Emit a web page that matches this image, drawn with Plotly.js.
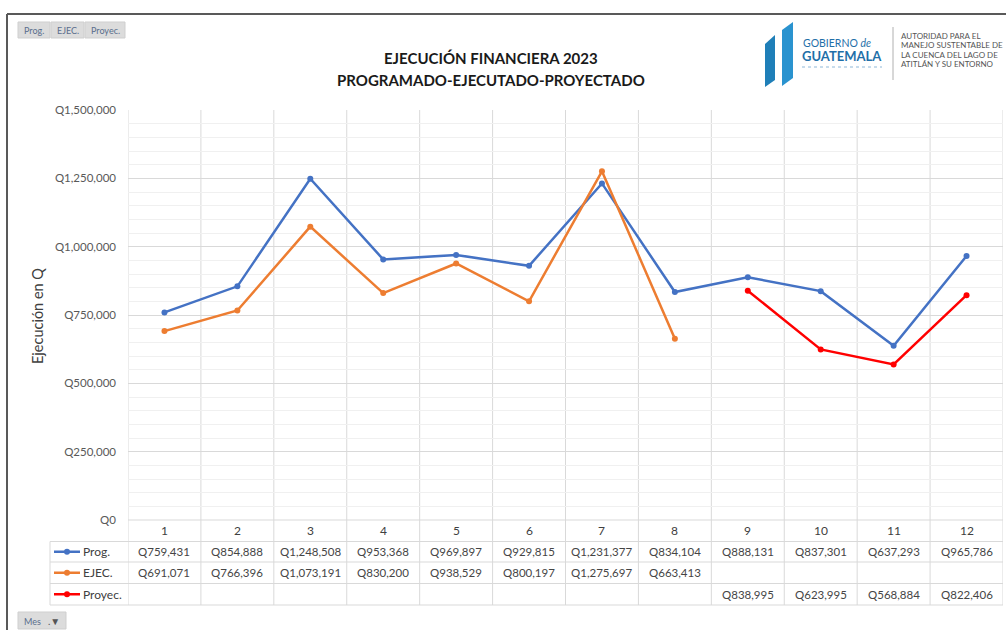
<!DOCTYPE html>
<html>
<head>
<meta charset="utf-8">
<script src="https://cdn.plot.ly/plotly-3.0.1.min.js"></script>
<style>
  html, body { margin: 0; padding: 0; background: #ffffff; }
  #chart { width: 1006px; height: 630px; }
</style>
</head>
<body>
<div id="chart"></div>
<script>
// ---- Data ----
const months = ['1', '2', '3', '4', '5', '6', '7', '8', '9', '10', '11', '12'];
const prog = [759431, 854888, 1248508, 953368, 969897, 929815, 1231377, 834104, 888131, 837301, 637293, 965786];
const ejec = [691071, 766396, 1073191, 830200, 938529, 800197, 1275697, 663413, null, null, null, null];
const proy = [null, null, null, null, null, null, null, null, 838995, 623995, 568884, 822406];
const seriesNames = ['Prog.', 'EJEC.', 'Proyec.'];
const seriesColors = ['#4472C4', '#ED7D31', '#FF0000'];
const titleLines = ['EJECUCIÓN FINANCIERA 2023', 'PROGRAMADO-EJECUTADO-PROYECTADO'];
const yTitle = 'Ejecución en Q';
const authorityLines = ['AUTORIDAD PARA EL', 'MANEJO SUSTENTABLE DE', 'LA CUENCA DEL LAGO DE', 'ATITLÁN Y SU ENTORNO'];

// ---- Geometry helpers (pixel -> paper) ----
const W = 1006, H = 630;
const px = x => x / W;
const py = y => 1 - y / H;
const FONT = 'Lato, "Open Sans", Arial, sans-serif';

const plotLeft = 128, plotRight = 1003, plotTop = 110, plotBottom = 520;
const legLeft = 50;
const rowLines = [520, 541.5, 562, 583.5, 605];
const xs = months.map(Number);
const allSeries = [prog, ejec, proy];

const traces = allSeries.map((vals, k) => ({
  type: 'scatter', mode: 'lines+markers', name: seriesNames[k],
  x: xs, y: vals, connectgaps: false,
  line: { color: seriesColors[k], width: 2.5 },
  marker: { color: seriesColors[k], size: 6 },
  hoverinfo: 'x+y'
}));

const shapes = [];
const annotations = [];
const gridCol = '#d9d9d9';
function ann(o) {
  annotations.push(Object.assign({ showarrow: false, xanchor: 'center', yanchor: 'middle' }, o));
}

// vertical column lines
for (let i = 0; i <= months.length; i++) {
  shapes.push({ type: 'line', xref: 'x', yref: 'paper', x0: i + 0.5, x1: i + 0.5,
    y0: py(plotTop), y1: py(rowLines[4]), line: { color: gridCol, width: 1 }, layer: 'below' });
}
// table horizontal lines
rowLines.forEach((y, j) => {
  shapes.push({ type: 'line', xref: 'paper', yref: 'paper', x0: px(j === 0 ? plotLeft : legLeft), x1: px(plotRight),
    y0: py(y), y1: py(y), line: { color: gridCol, width: 1 }, layer: 'below' });
});
// legend column left edge
shapes.push({ type: 'line', xref: 'paper', yref: 'paper', x0: px(legLeft), x1: px(legLeft),
  y0: py(rowLines[1]), y1: py(rowLines[4]), line: { color: gridCol, width: 1 } });

// category numbers row
months.forEach((m, i) => {
  ann({ xref: 'x', yref: 'paper', x: xs[i], y: py((rowLines[0] + rowLines[1]) / 2),
    text: m, font: { family: FONT, size: 12, color: '#404040' } });
});
// value rows and legend keys
allSeries.forEach((vals, k) => {
  const yc = (rowLines[k + 1] + rowLines[k + 2]) / 2;
  vals.forEach((v, i) => {
    if (v === null) return;
    ann({ xref: 'x', yref: 'paper', x: xs[i], y: py(yc),
      text: 'Q' + v.toLocaleString('en-US'),
      font: { family: FONT, size: 11.5, color: '#454545' } });
  });
  shapes.push({ type: 'line', xref: 'paper', yref: 'paper', x0: px(54), x1: px(80), y0: py(yc), y1: py(yc),
    line: { color: seriesColors[k], width: 2.5 } });
  shapes.push({ type: 'circle', xref: 'paper', yref: 'paper', x0: px(64), x1: px(70), y0: py(yc + 3), y1: py(yc - 3),
    fillcolor: seriesColors[k], line: { color: seriesColors[k], width: 0 } });
  ann({ xref: 'paper', yref: 'paper', x: px(81), y: py(yc), xanchor: 'left',
    text: seriesNames[k], font: { family: FONT, size: 12, color: '#404040' } });
});

// outer border (left and top)
shapes.push({ type: 'line', xref: 'paper', yref: 'paper', x0: px(7), x1: px(7), y0: py(14), y1: py(630),
  line: { color: '#595959', width: 2 } });
shapes.push({ type: 'line', xref: 'paper', yref: 'paper', x0: px(7), x1: px(1006), y0: py(14), y1: py(14),
  line: { color: '#595959', width: 2 } });

// field buttons top-left
const btns = [[18, 50, seriesNames[0]], [51, 84, seriesNames[1]], [85, 125, seriesNames[2]]];
btns.forEach(b => {
  shapes.push({ type: 'rect', xref: 'paper', yref: 'paper', x0: px(b[0]), x1: px(b[1]), y0: py(38), y1: py(22),
    fillcolor: '#dcdcdc', line: { color: '#cfcfcf', width: 1 } });
  ann({ xref: 'paper', yref: 'paper', x: px((b[0] + b[1]) / 2), y: py(30), text: b[2],
    font: { family: FONT, size: 9, color: '#5a6e8c' } });
});
// Mes button bottom-left
shapes.push({ type: 'rect', xref: 'paper', yref: 'paper', x0: px(18), x1: px(66), y0: py(629), y1: py(612),
  fillcolor: '#dcdcdc', line: { color: '#cfcfcf', width: 1 } });
ann({ xref: 'paper', yref: 'paper', x: px(22), y: py(621), xanchor: 'left', text: 'Mes',
  font: { family: FONT, size: 9, color: '#5a6e8c' } });
ann({ xref: 'paper', yref: 'paper', x: px(46), y: py(621), xanchor: 'left', text: '.▼',
  font: { family: FONT, size: 10, color: '#555555' } });

// title
titleLines.forEach((t, j) => {
  ann({ xref: 'paper', yref: 'paper', x: px(491), y: py(58 + j * 22), text: '<b>' + t + '</b>',
    font: { family: FONT, size: 15, color: '#1a1a1a' } });
});

// y axis title
ann({ xref: 'paper', yref: 'paper', x: px(37), y: py(316), text: yTitle, textangle: -90,
  font: { family: FONT, size: 14.5, color: '#404040' } });

// logo
shapes.push({ type: 'path', xref: 'paper', yref: 'paper',
  path: `M${px(765)},${py(44)} L${px(775)},${py(35)} L${px(775)},${py(80)} L${px(765)},${py(87)} Z`,
  fillcolor: '#1f7fb8', line: { width: 0 } });
shapes.push({ type: 'path', xref: 'paper', yref: 'paper',
  path: `M${px(782)},${py(30)} L${px(793)},${py(22)} L${px(793)},${py(78)} L${px(782)},${py(86)} Z`,
  fillcolor: '#2a93cf', line: { width: 0 } });
shapes.push({ type: 'line', xref: 'paper', yref: 'paper', x0: px(893), x1: px(893), y0: py(27), y1: py(80),
  line: { color: '#b0b0b0', width: 1 } });
ann({ xref: 'paper', yref: 'paper', x: px(801), y: py(43), xanchor: 'left',
  text: 'GOBIERNO <i>de</i>', font: { family: FONT, size: 10.5, color: '#1f6fa8' } });
ann({ xref: 'paper', yref: 'paper', x: px(800), y: py(56), xanchor: 'left',
  text: '<b>GUATEMALA</b>', font: { family: FONT, size: 13, color: '#1f6fa8' } });
shapes.push({ type: 'line', xref: 'paper', yref: 'paper', x0: px(802), x1: px(882), y0: py(67), y1: py(67),
  line: { color: '#8fb8d8', width: 1, dash: 'dot' } });
authorityLines.forEach((t, j) => {
  ann({ xref: 'paper', yref: 'paper', x: px(899), y: py(36 + j * 9.5), xanchor: 'left',
    text: t, font: { family: FONT, size: 8, color: '#555555' } });
});

const layout = {
  width: W, height: H,
  margin: { l: 0, r: 0, t: 0, b: 0 },
  paper_bgcolor: '#ffffff', plot_bgcolor: '#ffffff',
  showlegend: false,
  xaxis: {
    domain: [px(plotLeft), px(plotRight)], range: [0.5, 12.5],
    showticklabels: false, showgrid: false, zeroline: false, showline: false, fixedrange: true
  },
  yaxis: {
    domain: [py(plotBottom), py(plotTop)], range: [0, 1500000],
    dtick: 250000, tick0: 0, tickformat: ',d', tickprefix: 'Q',
    gridcolor: gridCol, gridwidth: 1, zeroline: false, showline: false,
    ticks: '', ticklabelstandoff: 11,
    tickfont: { family: FONT, size: 11.5, color: '#595959' },
    minor: { dtick: 50000, showgrid: true, gridcolor: '#f0f0f0', gridwidth: 1 },
    fixedrange: true
  },
  shapes: shapes,
  annotations: annotations
};

Plotly.newPlot('chart', traces, layout, { displayModeBar: false, staticPlot: true });
</script>
</body>
</html>
